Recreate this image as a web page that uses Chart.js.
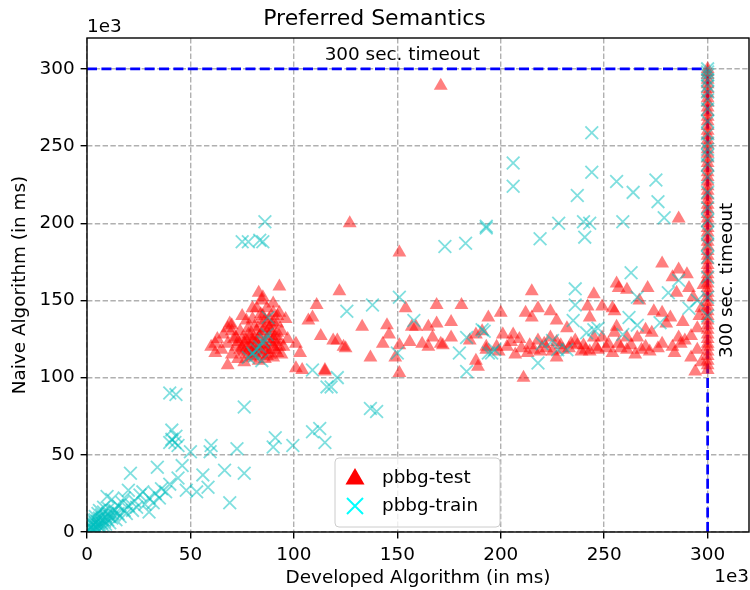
<!DOCTYPE html>
<html>
<head>
<meta charset="utf-8">
<script src="https://cdn.jsdelivr.net/npm/chart.js@4.4.0/dist/chart.umd.min.js"></script>
<style>
  html, body { margin: 0; padding: 0; background: #fff; overflow: hidden; }
  canvas { display: block; }
</style>
</head>
<body>
<canvas id="chart" width="750" height="590"></canvas>
<script>
// run times in units of 1e3 ms: [developed, naive]
const testPoints = [
  [60,120],[62,122],[62,116],[63,125],[65,118],[68,108],[68,132],[69,135],[68,122],[70,130],
  [70,115],[70,134],[72,120],[72,126],[74,118],[75,125],[75,140],[76,122],[77,115],[78,128],
  [78,132],[79,120],[80,138],[80,118],[81,125],[82,130],[82,145],[83,115],[83,120],[84,128],
  [84,135],[84.5,150],[85,122],[85,140],[85,152],[86,118],[86,132],[87,125],[88,115],[88,138],
  [89,122],[89,130],[90,120],[90,142],[91,127],[92,116],[92,135],[93,142],[93,159],[93,124],
  [94,130],[95,120],[96,138],[97,125],[73,112],[76,110],[79,113],[81,116],[86,112],[90,113],
  [94,115],[77,137],[80,145],[87,145],[90,148],[83,155],[74,130],[71,125],[66,128],
  [76,117],[78,121],[80,124],[81,119],[82,122],[83,126],[84,117],[85,130],[86,121],[87,118],
  [88,127],[89,134],[90,125],[91,118],[92,129],[93,120],[79,127],[81,133],[84,141],[86,137],
  [88,132],[90,136],[92,140],[77,124],[75,119],[73,123],[80,114],[83,111],[87,114],[91,123],
  [101,122],[103,116],[101,106],[107,137],[109,139],[111,147],[115,105],[113,127],
  [127,200],[151,181],[122,156],[133,133],[145,134],[146,128],[119,124],[121,124],[124,120],
  [125,119],[143,122],[137,113],[115,104],[104,105],[149,113],[151,103],[151,121],[154,145],
  [157,133],[159,133],[165,133],[169,147],[169,135],[176,136],[181,147],[156,123],[162,122],
  [165,120],[171,122],[172,121],[176,126],[167,126],[185,124],[188,128],[191,130],[194,139],
  [188,111],[189,107],[193,118],[198,120],[171,289],
  [278,174],[215,156],[286,170],[283,165],[290,167],[271,158],[256,161],[257,158],[245,154],
  [261,157],[267,150],[285,155],[291,158],[293,152],[200,142],[212,142],[218,145],[215,139],
  [224,143],[227,137],[242,146],[243,139],[249,146],[254,145],[255,143],[274,143],[278,142],
  [282,139],[288,136],[206,128],[201,128],[193,120],[199,117],[207,115],[211,100],[210,119],
  [214,121],[218,124],[221,122],[224,126],[227,123],[230,118],[232,132],[234,122],[237,121],
  [239,117],[241,118],[245,126],[246,120],[249,126],[251,119],[254,116],[255,129],[256,133],
  [257,122],[261,126],[261,118],[265,115],[266,126],[270,131],[270,120],[273,129],[278,122],
  [280,135],[286,126],[287,122],[294,104],[295,118],[295,132],[286,203],[227,113],
  [213,116],[216,118],[219,117],[222,119],[225,117],[229,121],[233,119],[236,124],[240,121],
  [243,117],[247,118],[252,122],[258,119],[263,121],[268,118],[272,117],[276,119],[283,120],
  [289,124],[292,127],[296,140],[297,145],[298,160],[297,110],[292,113],[284,116],[203,120],
  [205,123],[209,125]
];

const trainPoints = [
  [0.5,1],[1,2],[1.5,0.5],[2,3],[2.5,1.5],[3,4],[3,2],[3.5,5],[4,1],[4,6],[4.5,3],[5,2],
  [5,7],[5.5,4],[6,5],[6,9],[6.5,3],[7,6],[7,11],[7.5,8],[8,4],[8,13],[8.5,7],[9,10],
  [9.7,23],[9,5],[10,12],[10,8],[10.5,15],[11,6],[11,10],[12,21],[12,9],[12.5,14],[13,11],
  [13.5,14],[14,8],[15,12],[15,17],[16,10],[17,19],[18,22],[18,14],[19,12],[20,27],[20,17],
  [21,38],[22,14],[23,20],[24,16],[25.6,24],[27,26],[28,18],[30,13],[30,22],[32,19],[33,25],
  [34,42],[35,22],[36,28],[38,26],[40,31],[41,66],[40,58],[42.5,58],[44,56],[41,60],[43,62],
  [46,43],[44,35],[48,27],[50,52],[53,26],[56,37],[58.5,29],[60,56],[59.5,52],[66.5,40],
  [69,19],[72.5,54],[76,38],[40,90],[43,89],[5.3,12],[3.9,8],[1.4,3],[2,6],[4,10],[6,14],
  [8,16],[2,9],
  [76,81],[91,61],[99.5,56],[90,55],[109,65],[112.5,67],[115,58],[109,105],[116,94],[121,100],
  [118,94],[137,80],[140,78],[125.6,143],[138,147],[151,152],[158,137],[150,116],[180,116],
  [183.5,126],[192,130],[183.5,104],[195.6,116],[173,185],[183,187],[193,197],[86,201],
  [75,188],[78,188],[83.5,189],[85,188],[78,113],[80,116],[82,118],[83.5,120],[85,123],
  [87,128],[87.5,139],[84.5,111],[81,114],[86,125],
  [244,258.6],[206,239],[206,224],[244,233],[256,227],[275,228],[264,220],[276,214],
  [279,203.5],[237,218],[193,198],[228,200],[240,201],[243,200],[259,201],[219,190],[240.6,191],
  [263,168],[236,157.5],[236,147],[235,137],[281,155],[286,163],[266,152],[295,150],[291,145],
  [191,131],[197,118],[194,116],[218,109.5],[220,122],[225,124],[227.5,118],[232,118],
  [241.5,129],[245,131],[247,132],[259,128],[262,139],[266,134],[277,135.5]
];

// runs that hit the timeout on the developed side
const timeoutTestY = [105,108,111,114,117,120,122,125,128,131,134,137,140,143,146,149,152,155,
  158,161,164,167,170,173,176,179,182,185,188,191,194,197,200,203,206,209,212,215,218,221,224,
  227,230,233,236,239,242,245,248,251,254,257,260,263,266,269,272,275,278,281,284,287,290,293,
  296,298,300];
const timeoutTrainY = [140,152,165,178,186,194,202,210,220,230,238,244,248,252,258,266,274,
  280,285,289,293,296,298,300];

const timeout = 300;
const axisMax = 320;
const tickValues = [0, 50, 100, 150, 200, 250, 300];
const seriesNames = ['pbbg-test', 'pbbg-train'];
const timeoutLabel = '300 sec. timeout';

const FONT = "'DejaVu Sans', sans-serif";
Chart.defaults.font.family = FONT;
Chart.defaults.font.size = 18.4;
Chart.defaults.color = '#000';

const toXY = pts => pts.map(p => ({ x: p[0], y: p[1] }));

const testData = toXY(testPoints).concat(timeoutTestY.map(v => ({ x: timeout, y: v })));
const trainData = toXY(trainPoints).concat(timeoutTrainY.map(v => ({ x: timeout, y: v })));

function roundRect(ctx, x, y, w, h, r) {
  ctx.beginPath();
  ctx.moveTo(x + r, y);
  ctx.arcTo(x + w, y, x + w, y + h, r);
  ctx.arcTo(x + w, y + h, x, y + h, r);
  ctx.arcTo(x, y + h, x, y, r);
  ctx.arcTo(x, y, x + w, y, r);
  ctx.closePath();
}

// frame, timeout labels, offset text and legend
const overlay = {
  id: 'overlay',
  afterDatasetsDraw(chart) {
    const { ctx, chartArea: a, scales: { x, y } } = chart;
    ctx.save();
    ctx.strokeStyle = '#000';
    ctx.lineWidth = 1.4;
    ctx.strokeRect(a.left, a.top, a.right - a.left, a.bottom - a.top);

    ctx.fillStyle = '#000';
    ctx.font = '18.4px ' + FONT;
    ctx.textAlign = 'center';
    ctx.textBaseline = 'middle';
    ctx.fillText(timeoutLabel, x.getPixelForValue(timeout / 2) + 5, y.getPixelForValue(timeout) - 14);

    ctx.save();
    ctx.translate(x.getPixelForValue(timeout) + 20, y.getPixelForValue(163));
    ctx.rotate(-Math.PI / 2);
    ctx.fillText(timeoutLabel, 0, 0);
    ctx.restore();

    ctx.textAlign = 'left';
    ctx.fillText('1e3', a.left, a.top - 11);
    ctx.textAlign = 'right';
    ctx.fillText('1e3', a.right, 577);

    // legend box
    const bx = 335, by = 458, bw = 165, bh = 69;
    roundRect(ctx, bx, by, bw, bh, 4);
    ctx.fillStyle = 'rgba(255,255,255,0.8)';
    ctx.fill();
    ctx.strokeStyle = '#cccccc';
    ctx.lineWidth = 1;
    ctx.stroke();

    const mx = bx + 20;
    // triangle marker
    let cy = by + 21, r = 11;
    ctx.beginPath();
    ctx.moveTo(mx, cy - r);
    ctx.lineTo(mx + r * 0.866, cy + r / 2);
    ctx.lineTo(mx - r * 0.866, cy + r / 2);
    ctx.closePath();
    ctx.fillStyle = '#ff0000';
    ctx.fill();
    // cross marker
    cy = by + 48;
    const h = 8;
    ctx.beginPath();
    ctx.moveTo(mx - h, cy - h); ctx.lineTo(mx + h, cy + h);
    ctx.moveTo(mx + h, cy - h); ctx.lineTo(mx - h, cy + h);
    ctx.strokeStyle = '#00ffff';
    ctx.lineWidth = 2;
    ctx.stroke();

    ctx.fillStyle = '#000';
    ctx.textAlign = 'left';
    ctx.fillText(seriesNames[0], bx + 47, by + 20);
    ctx.fillText(seriesNames[1], bx + 47, by + 48);
    ctx.restore();
  }
};

const axisCommon = {
  type: 'linear',
  min: 0,
  max: axisMax,
  afterBuildTicks: s => { s.ticks = tickValues.map(v => ({ value: v })); },
  grid: {
    color: '#b0b0b0',
    lineWidth: 1.4,
    tickColor: '#000',
    tickLength: 6.4,
    tickWidth: 1.4,
    tickBorderDash: []
  },
  border: { display: false, dash: [5.4, 2.4] },
  ticks: { padding: 6, color: '#000', font: { size: 18.4 } }
};

new Chart(document.getElementById('chart'), {
  type: 'scatter',
  data: {
    datasets: [
      {
        label: seriesNames[1],
        data: trainData,
        order: 0,
        pointStyle: 'crossRot',
        pointRadius: 9,
        borderWidth: 1.8,
        borderColor: 'rgba(0,191,191,0.5)',
        backgroundColor: 'rgba(0,191,191,0.5)'
      },
      {
        label: seriesNames[0],
        data: testData,
        order: 1,
        pointStyle: 'triangle',
        pointRadius: 8,
        borderWidth: 0,
        backgroundColor: 'rgba(255,0,0,0.5)'
      },
      {
        label: 'timeout-x',
        data: [{ x: 0, y: timeout }, { x: timeout, y: timeout }],
        order: 2,
        showLine: true,
        pointRadius: 0,
        borderColor: '#0000ff',
        borderWidth: 2.7,
        borderDash: [10, 4.4]
      },
      {
        label: 'timeout-y',
        data: [{ x: timeout, y: 0 }, { x: timeout, y: timeout }],
        order: 2,
        showLine: true,
        pointRadius: 0,
        borderColor: '#0000ff',
        borderWidth: 2.7,
        borderDash: [10, 4.4]
      }
    ]
  },
  options: {
    responsive: false,
    animation: false,
    events: [],
    layout: { autoPadding: false, padding: { left: 0, right: 1, top: 0, bottom: 0 } },
    plugins: {
      legend: { display: false },
      tooltip: { enabled: false },
      title: {
        display: true,
        text: 'Preferred Semantics',
        color: '#000',
        font: { size: 22, weight: 'normal' },
        padding: { top: 5.8, bottom: 5.8 }
      }
    },
    scales: {
      x: Object.assign({}, axisCommon, {
        title: { display: true, text: 'Developed Algorithm (in ms)', padding: { top: 0, bottom: 1 }, font: { size: 18.4 } },
        afterFit: s => { s.height = 58; s.paddingLeft = 0; s.paddingRight = 0; }
      }),
      y: Object.assign({}, axisCommon, {
        title: { display: true, text: 'Naive Algorithm (in ms)', padding: { top: 9, bottom: 0 }, font: { size: 18.4 } },
        afterFit: s => { s.width = 87; s.paddingTop = 0; s.paddingBottom = 0; }
      })
    }
  },
  plugins: [overlay]
});
</script>
</body>
</html>
